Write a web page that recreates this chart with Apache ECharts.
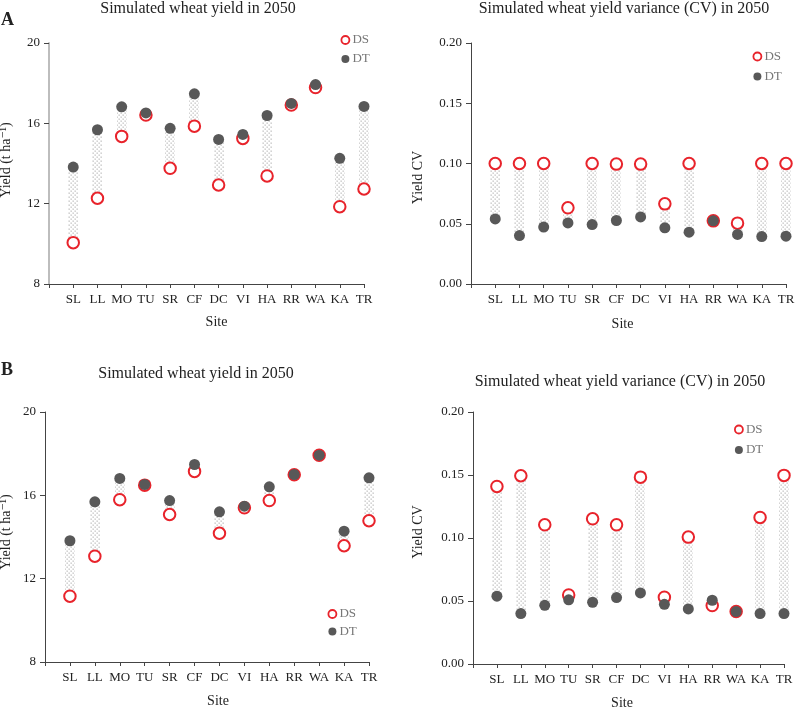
<!DOCTYPE html>
<html>
<head>
<meta charset="utf-8">
<script src="https://cdn.jsdelivr.net/npm/echarts@6/dist/echarts.min.js"></script>
<style>html,body{margin:0;padding:0;background:#fff}#c{width:795px;height:709px}</style>
</head>
<body>
<div id="c"></div>
<script>
const sites = ['SL','LL','MO','TU','SR','CF','DC','VI','HA','RR','WA','KA','TR'];
const seriesNames = ['DS','DT'];
// Panel A
const yieldA_DS = [10.06, 12.27, 15.35, 16.41, 13.76, 15.86, 12.93, 15.25, 13.38, 16.91, 17.78, 11.85, 12.73];
const yieldA_DT = [13.82, 15.68, 16.82, 16.52, 15.75, 17.47, 15.20, 15.45, 16.39, 16.99, 17.93, 14.26, 16.84];
const cvA_DS = [0.100, 0.100, 0.100, 0.0632, 0.100, 0.0995, 0.0995, 0.0665, 0.100, 0.0524, 0.0505, 0.100, 0.100];
const cvA_DT = [0.0540, 0.0402, 0.0472, 0.0507, 0.0493, 0.0527, 0.0557, 0.0466, 0.0430, 0.0524, 0.0411, 0.0394, 0.0397];
// Panel B
const yieldB_DS = [11.16, 13.08, 15.79, 16.49, 15.08, 17.15, 14.18, 15.40, 15.75, 16.99, 17.92, 13.58, 14.78];
const yieldB_DT = [13.82, 15.69, 16.81, 16.52, 15.75, 17.48, 15.21, 15.48, 16.41, 17.00, 17.93, 14.28, 16.84];
const cvB_DS = [0.1409, 0.1494, 0.1105, 0.0548, 0.1152, 0.1105, 0.1483, 0.0530, 0.1007, 0.0464, 0.0416, 0.1163, 0.1497];
const cvB_DT = [0.0538, 0.0400, 0.0466, 0.0509, 0.0490, 0.0527, 0.0564, 0.0474, 0.0437, 0.0506, 0.0416, 0.0400, 0.0400];
// Axis ranges / ticks
const yieldTicks = [8, 12, 16, 20];
const cvTicks = [0, 0.05, 0.10, 0.15, 0.20];
const titles = ['Simulated wheat yield in 2050', 'Simulated wheat yield variance (CV) in 2050'];
const yNames = ['Yield (t ha\u207B\u00B9)', 'Yield CV'];
const xName = 'Site';

const FONT = '"Liberation Serif", "DejaVu Serif", serif';
const RED = '#e8232b';
const DARK = '#585858';

// dotted fill pattern
const pc = document.createElement('canvas');
pc.width = 4; pc.height = 4;
const pctx = pc.getContext('2d');
pctx.fillStyle = '#bdbdbd';
pctx.fillRect(0.5, 0.5, 1.3, 1.3);
pctx.fillRect(2.5, 2.5, 1.3, 1.3);

const panels = [
  {ds: yieldA_DS, dt: yieldA_DT, ticks: yieldTicks, kind: 0,
   grid: {left: 49, top: 43, width: 315, height: 241},
   yAxisColor: '#bdbdbd', yAxisWidth: 2, yNameGap: 36, yNamePad: [0,0,0,7], xNameGap: 31, xNamePad: [0,0,0,20],
   legend: {left: 340.5, top: 33.5, itemGap: 6}},
  {ds: cvA_DS, dt: cvA_DT, ticks: cvTicks, kind: 1,
   grid: {left: 471, top: 43, width: 315, height: 241},
   yAxisColor: '#444', yAxisWidth: 1, yNameGap: 46, yNamePad: [0,28,0,0], xNameGap: 33, xNamePad: [0,12,0,0],
   legend: {left: 752.5, top: 50, itemGap: 7}},
  {ds: yieldB_DS, dt: yieldB_DT, ticks: yieldTicks, kind: 0,
   grid: {left: 45, top: 412, width: 324, height: 250},
   yAxisColor: '#444', yAxisWidth: 1, yNameGap: 32, yNamePad: [0,0,0,10], xNameGap: 32, xNamePad: [0,0,0,22],
   legend: {left: 327.5, top: 607.5, itemGap: 4.5}},
  {ds: cvB_DS, dt: cvB_DT, ticks: cvTicks, kind: 1,
   grid: {left: 473, top: 412, width: 311, height: 252},
   yAxisColor: '#444', yAxisWidth: 1, yNameGap: 48, yNamePad: [0,0,0,12], xNameGap: 32, xNamePad: [0,13,0,0],
   legend: {left: 734, top: 423, itemGap: 7.5}}
];

const grid = [], xAxis = [], yAxis = [], series = [], legend = [];
panels.forEach((p, i) => {
  grid.push(Object.assign({containLabel: false, outerBoundsMode: 'none'}, p.grid));
  xAxis.push({
    type: 'value', gridIndex: i, min: 0, max: sites.length, interval: 1,
    name: xName, nameLocation: 'middle', nameGap: p.xNameGap,
    nameTextStyle: {fontFamily: FONT, fontSize: 14, color: '#222', padding: p.xNamePad},
    axisLine: {show: true, onZero: false, lineStyle: {color: '#444', width: 1}},
    axisTick: {show: true, length: 4, lineStyle: {color: '#444'}},
    axisLabel: {fontFamily: FONT, fontSize: 13, color: '#222', margin: 9,
      formatter: v => (v >= 1 && v <= sites.length) ? sites[v - 1] : ''},
    splitLine: {show: false}
  });
  const tk = p.ticks;
  yAxis.push({
    type: 'value', gridIndex: i, min: tk[0], max: tk[tk.length - 1], interval: tk[1] - tk[0],
    name: yNames[p.kind], nameLocation: 'middle', nameGap: p.yNameGap, nameRotate: 90,
    nameTextStyle: {fontFamily: FONT, fontSize: 14, color: '#222', padding: p.yNamePad},
    axisLine: {show: true, lineStyle: {color: p.yAxisColor, width: p.yAxisWidth}},
    axisTick: {show: true, length: 5, lineStyle: {color: '#444'}},
    axisLabel: {fontFamily: FONT, fontSize: 13, color: '#222', margin: 9,
      formatter: v => p.kind === 1 ? v.toFixed(2) : String(v)},
    splitLine: {show: false}
  });
  series.push({
    type: 'custom', name: 'link' + i, xAxisIndex: i, yAxisIndex: i, silent: true, z: 1,
    encode: {x: 0, y: [1, 2]},
    data: sites.map((s, k) => [k + 1, p.ds[k], p.dt[k]]),
    renderItem: (params, api) => {
      const x = api.value(0);
      const a = api.coord([x, api.value(1)]);
      const b = api.coord([x, api.value(2)]);
      const w = 10;
      return {type: 'rect',
        shape: {x: Math.round(a[0] - w / 2), y: Math.min(a[1], b[1]), width: w, height: Math.abs(a[1] - b[1])},
        style: {fill: {image: pc, repeat: 'repeat'}}};
    }
  });
  series.push({
    type: 'scatter', name: seriesNames[0], xAxisIndex: i, yAxisIndex: i, z: 3,
    symbol: 'circle', symbolSize: 11.5,
    itemStyle: {color: '#fff', borderColor: RED, borderWidth: 2, opacity: 1},
    data: p.ds.map((v, k) => [k + 1, v])
  });
  series.push({
    type: 'scatter', name: seriesNames[1], xAxisIndex: i, yAxisIndex: i, z: 4,
    symbol: 'circle', symbolSize: 11,
    itemStyle: {color: DARK, opacity: 1},
    data: p.dt.map((v, k) => [k + 1, v])
  });
  legend.push({
    orient: 'vertical', left: p.legend.left, top: p.legend.top, itemGap: p.legend.itemGap,
    itemWidth: 8, itemHeight: 8, selectedMode: false, padding: 0,
    textStyle: {fontFamily: FONT, fontSize: 13, color: '#777', padding: [0,0,0,-2]},
    data: [
      {name: 'DS', icon: 'circle', itemStyle: {color: '#fff', borderColor: RED, borderWidth: 1.8}},
      {name: 'DT', icon: 'circle', itemStyle: {color: DARK, borderWidth: 0}}
    ]
  });
});

const title = [
  {text: titles[0], left: 198, top: 1, textAlign: 'center'},
  {text: titles[1], left: 624, top: 1, textAlign: 'center'},
  {text: titles[0], left: 196, top: 366, textAlign: 'center'},
  {text: titles[1], left: 620, top: 374, textAlign: 'center'},
  {text: 'A', left: 1, top: 11, textStyle: {fontWeight: 'bold', fontSize: 18}},
  {text: 'B', left: 1, top: 361, textStyle: {fontWeight: 'bold', fontSize: 18}}
].map(t => {
  t.padding = 0;
  t.textStyle = Object.assign({fontFamily: FONT, fontSize: 16, fontWeight: 'normal', color: '#222'}, t.textStyle || {});
  return t;
});

const chart = echarts.init(document.getElementById('c'), null, {renderer: 'canvas'});
chart.setOption({animation: false, backgroundColor: '#fff', title, grid, xAxis, yAxis, legend, series});
</script>
</body>
</html>
